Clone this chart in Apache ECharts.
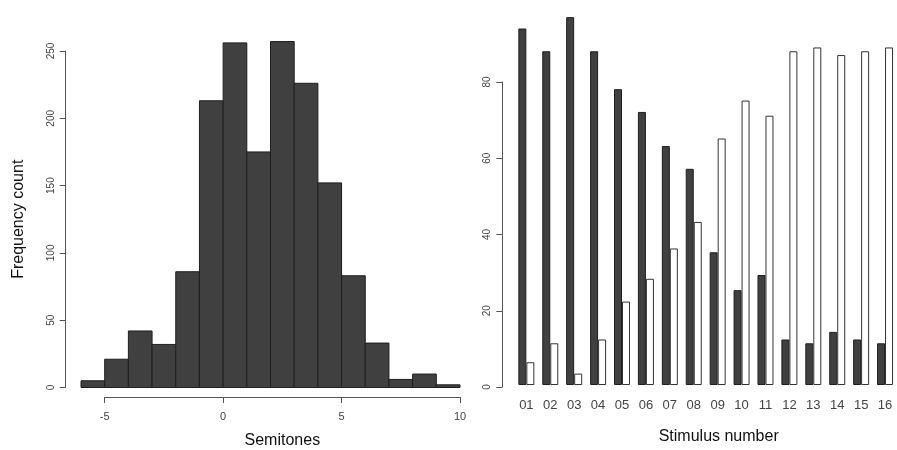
<!DOCTYPE html>
<html>
<head>
<meta charset="utf-8">
<script src="https://cdn.jsdelivr.net/npm/echarts@6/dist/echarts.min.js"></script>
<style>html,body{margin:0;padding:0;background:#fff;}#c{width:897px;height:450px;}</style>
</head>
<body>
<div id="c"></div>
<script>
// Histogram (left): bin edges and counts
const binStarts = [-6,-5,-4,-3,-2,-1,0,1,2,3,4,5,6,7,8,9];
const binEnds   = [-5,-4,-3,-2,-1,0,1,2,3,4,5,6,7,8,9,10];
const binCounts = [5,21,42,32,86,213,256,175,257,226,152,83,33,6,10,2];
const histYTicks = [0,50,100,150,200,250];
const histXTicks = [-5,0,5,10];

// Grouped bars (right)
const stimuli = ['01','02','03','04','05','06','07','08','09','10','11','12','13','14','15','16'];
const darkValues  = [94,88,97,88,78,72,63,57,35,25,29,12,11,14,12,11];
const whiteValues = [6,11,3,12,22,28,36,43,65,75,71,88,89,87,88,89];
const barYTicks = [0,20,40,60,80];

const FONT = '"Liberation Sans", Arial, Helvetica, sans-serif';
const AXC = '#555';
const LBL = '#444';

const chart = echarts.init(document.getElementById('c'), null, {renderer:'canvas'});

const histData = binStarts.map((s,i)=>[s, binEnds[i], binCounts[i]]);

const option = {
  animation: false,
  backgroundColor: '#fff',
  textStyle: {fontFamily: FONT},
  grid: [
    {left: 81, width: 379, top: 37.5, height: 350},          // 0: histogram bars
    {left: 65.7, width: 10, top: 51, height: 336.5},         // 1: histogram y axis
    {left: 104.7, width: 355.3, bottom: 47.7, height: 10},   // 2: histogram x axis
    {left: 514.4, right: -3.8, top: 5.75, height: 381.25},   // 3: grouped bars
    {left: 502.3, width: 10, top: 82, height: 305}           // 4: bar y axis
  ],
  xAxis: [
    {gridIndex: 0, type: 'value', min: binStarts[0], max: binEnds[binEnds.length-1], show: false},
    {gridIndex: 1, type: 'value', min: 0, max: 1, show: false},
    {gridIndex: 2, type: 'value', min: histXTicks[0], max: histXTicks[histXTicks.length-1], interval: 5,
      position: 'bottom',
      axisLine: {show: true, lineStyle: {color: AXC, width: 1}},
      axisTick: {show: true, length: 6, lineStyle: {color: AXC}},
      axisLabel: {show: true, margin: 14, fontSize: 11, color: LBL, fontFamily: FONT,
        formatter: v => (v < 0 ? '-' + Math.abs(v) : String(v))},
      splitLine: {show: false},
      name: 'Semitones', nameLocation: 'middle', nameGap: 36,
      nameTextStyle: {fontSize: 16, color: '#111', fontFamily: FONT}
    },
    {gridIndex: 3, type: 'category', data: stimuli,
      axisLine: {show: false}, axisTick: {show: false},
      axisLabel: {show: true, margin: 14, fontSize: 13, color: LBL, fontFamily: FONT, interval: 0},
      splitLine: {show: false},
      name: 'Stimulus number', nameLocation: 'middle', nameGap: 42,
      nameTextStyle: {fontSize: 16, color: '#111', fontFamily: FONT, padding: [2,0,0,26]}
    },
    {gridIndex: 4, type: 'value', min: 0, max: 1, show: false}
  ],
  yAxis: [
    {gridIndex: 0, type: 'value', min: 0, max: 260, show: false},
    {gridIndex: 1, type: 'value', min: histYTicks[0], max: histYTicks[histYTicks.length-1], interval: 50,
      position: 'left',
      axisLine: {show: true, lineStyle: {color: AXC, width: 1}},
      axisTick: {show: true, length: 6, lineStyle: {color: AXC}},
      axisLabel: {show: true, rotate: 90, margin: 9, fontSize: 10, color: LBL, fontFamily: FONT},
      splitLine: {show: false},
      name: 'Frequency count', nameLocation: 'middle', nameGap: 39,
      nameTextStyle: {fontSize: 16, color: '#111', fontFamily: FONT}
    },
    {gridIndex: 2, type: 'value', min: 0, max: 1, show: false},
    {gridIndex: 3, type: 'value', min: 0, max: 100, show: false},
    {gridIndex: 4, type: 'value', min: barYTicks[0], max: barYTicks[barYTicks.length-1], interval: 20,
      position: 'left',
      axisLine: {show: true, lineStyle: {color: AXC, width: 1}},
      axisTick: {show: true, length: 6, lineStyle: {color: AXC}},
      axisLabel: {show: true, rotate: 90, margin: 10, fontSize: 10, color: LBL, fontFamily: FONT},
      splitLine: {show: false}
    }
  ],
  series: [
    {
      type: 'custom', xAxisIndex: 0, yAxisIndex: 0, clip: false,
      encode: {x: [0, 1], y: 2},
      data: histData,
      renderItem: function (params, api) {
        const p0 = api.coord([api.value(0), api.value(2)]);
        const p1 = api.coord([api.value(1), 0]);
        return {
          type: 'rect',
          shape: {x: p0[0], y: p0[1], width: p1[0] - p0[0], height: p1[1] - p0[1]},
          style: {fill: '#404040', stroke: '#1e1e1e', lineWidth: 1}
        };
      }
    },
    {
      type: 'bar', xAxisIndex: 3, yAxisIndex: 3, data: darkValues, clip: false,
      barWidth: 8, barGap: '0%',
      itemStyle: {color: '#404040', borderColor: '#1e1e1e', borderWidth: 1}
    },
    {
      type: 'bar', xAxisIndex: 3, yAxisIndex: 3, data: whiteValues, clip: false,
      barWidth: 8, barGap: '0%',
      itemStyle: {color: '#ffffff', borderColor: '#333', borderWidth: 1}
    }
  ]
};

chart.setOption(option);
</script>
</body>
</html>
